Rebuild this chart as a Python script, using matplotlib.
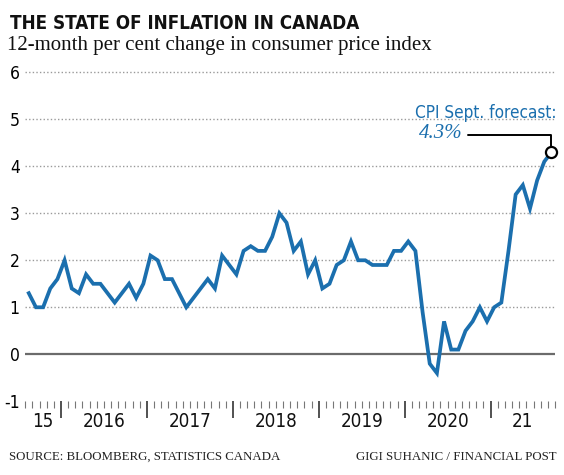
import numpy as np
import pandas as pd
import matplotlib
matplotlib.use('Agg')
import matplotlib.pyplot as plt
from matplotlib.ticker import FixedLocator, NullFormatter

## DATA

start_month = '2015-08'
end_month = '2021-09'
cpi = [1.3, 1.0, 1.0, 1.4, 1.6,                                    # 2015 Aug-Dec
       2.0, 1.4, 1.3, 1.7, 1.5, 1.5, 1.3, 1.1, 1.3, 1.5, 1.2, 1.5,  # 2016
       2.1, 2.0, 1.6, 1.6, 1.3, 1.0, 1.2, 1.4, 1.6, 1.4, 2.1, 1.9,  # 2017
       1.7, 2.2, 2.3, 2.2, 2.2, 2.5, 3.0, 2.8, 2.2, 2.4, 1.7, 2.0,  # 2018
       1.4, 1.5, 1.9, 2.0, 2.4, 2.0, 2.0, 1.9, 1.9, 1.9, 2.2, 2.2,  # 2019
       2.4, 2.2, 0.9, -0.2, -0.4, 0.7, 0.1, 0.1, 0.5, 0.7, 1.0, 0.7,  # 2020
       1.0, 1.1, 2.2, 3.4, 3.6, 3.1, 3.7, 4.1, 4.3]                 # 2021 (Sept = forecast)
year_labels = ['15', '2016', '2017', '2018', '2019', '2020', '21']
y_ticks = [-1, 0, 1, 2, 3, 4, 5, 6]
forecast_label = '4.3%'

blue = '#1b6fae'
sans = dict(family='DejaVu Sans', stretch='condensed')
serif = dict(family=['Liberation Serif', 'DejaVu Serif'])

# months counted from Jan 2016, points drawn mid-month
months = pd.period_range(start_month, end_month, freq='M')
x = np.array([(p.year - 2016) * 12 + (p.month - 1) + 0.5 for p in months])
x_min = x[0] - 0.5
x_max = x[-1] + 0.5

## PLOT

fig = plt.figure(figsize=(5.64, 4.75), dpi=100)
ax = fig.add_axes([0.0447, 0.1552, 0.9394, 0.7025])
ax.set_xlim(x_min, x_max)
ax.set_ylim(-1, 6.1)

for s in ax.spines.values():
    s.set_visible(False)

# grid lines
for v in y_ticks[2:]:
    ax.axhline(v, color='#9a9a9a', lw=1.0, ls=(0, (1, 1.6)), zorder=1)
ax.axhline(0, color='#6b6b6b', lw=1.6, zorder=2)

ax.plot(x, cpi, color=blue, lw=2.7, solid_joinstyle='miter', zorder=3, clip_on=False)

# forecast marker + callout
ax.plot(x[-1], cpi[-1], 'o', ms=8, mfc='white', mec='black', mew=1.6, zorder=4, clip_on=False)
ax.annotate('', xy=(x[-1], cpi[-1]), xytext=(-60, 12.4), textcoords='offset points',
            arrowprops=dict(arrowstyle='-', color='black', lw=1.4, shrinkA=0, shrinkB=4,
                            connectionstyle='angle,angleA=0,angleB=90,rad=0'))
ax.annotate('CPI Sept. forecast:', xy=(x[-1], cpi[-1]), xytext=(3.3, 24.6),
            textcoords='offset points', ha='right', va='baseline',
            color=blue, fontsize=12.3, **sans)
ax.annotate(forecast_label, xy=(x[-1], cpi[-1]), xytext=(-95.5, 10.2),
            textcoords='offset points', ha='left', va='baseline',
            color=blue, fontsize=15, style='italic', **serif)

# y axis
ax.set_yticks(y_ticks)
ax.set_yticklabels([str(v) for v in y_ticks], fontsize=12.5, **sans)
ax.tick_params(axis='y', length=0, pad=4)

# x ruler: month ticks, longer year ticks, labels centred in each year
year_edges = [e for e in range(0, int(x_max) + 1, 12) if e > x_min]
ax.xaxis.set_major_locator(FixedLocator(year_edges))
ax.xaxis.set_minor_locator(FixedLocator(np.arange(x_min, x_max + 0.01, 1)))
ax.xaxis.set_major_formatter(NullFormatter())
ax.tick_params(axis='x', which='major', length=12, width=1.2, color='#333333', direction='out')
ax.tick_params(axis='x', which='minor', length=5, width=0.8, color='#777777', direction='out')

edges = [x_min] + year_edges + [x_max]
for i, lab in enumerate(year_labels):
    mid = (edges[i] + edges[i + 1]) / 2
    ax.annotate(lab, xy=(mid, -1), xytext=(0, -8), textcoords='offset points',
                ha='center', va='top', fontsize=13.5, color='#111111', **sans)

# titles and footer
fig.text(10 / 564, 1 - 29 / 475, 'THE STATE OF INFLATION IN CANADA', ha='left', va='baseline',
         fontsize=13.5, fontweight='bold', color='#111111', **sans)
fig.text(7 / 564, 1 - 50 / 475, '12-month per cent change in consumer price index', ha='left',
         va='baseline', fontsize=15, color='#111111', **serif)
fig.text(9 / 564, 1 - 460 / 475, 'SOURCE: BLOOMBERG, STATISTICS CANADA', ha='left',
         va='baseline', fontsize=9.3, color='#222222', **serif)
fig.text(557 / 564, 1 - 460 / 475, 'GIGI SUHANIC / FINANCIAL POST', ha='right',
         va='baseline', fontsize=9.3, color='#222222', **serif)

fig.savefig('out.png', dpi=100, facecolor='white')
